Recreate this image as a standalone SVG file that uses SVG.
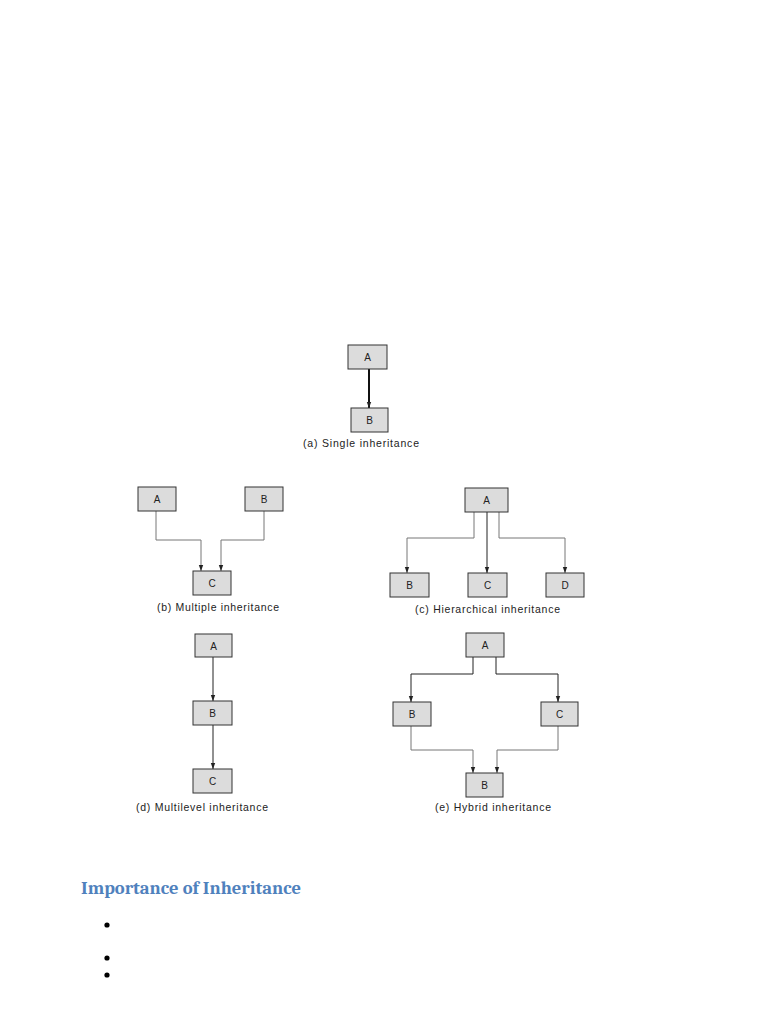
<svg xmlns="http://www.w3.org/2000/svg" width="768" height="1024" viewBox="0 0 768 1024">
<style>
.box{fill:#dcdcdc;stroke:#333;stroke-width:1}
.lbl{font-family:"Liberation Sans",Arial,sans-serif;font-size:10px;fill:#222;text-anchor:middle}
.cap{font-family:"Liberation Sans",Arial,sans-serif;font-size:10.5px;fill:#222}
.c{fill:none;stroke:#777;stroke-width:1}
.cd{fill:none;stroke:#222;stroke-width:1}
.thick{fill:none;stroke:#111;stroke-width:2}
.h{font-family:Cambria,"Liberation Serif",serif;font-size:18px;font-weight:bold;fill:#4f81bd}
</style>
<defs>
<marker id="ar" viewBox="0 0 6 6" refX="6" refY="3" markerWidth="6" markerHeight="6" markerUnits="userSpaceOnUse" orient="auto">
<path d="M0,0.8 L6,3 L0,5.2 Z" fill="#222"/>
</marker>
</defs>
<rect width="768" height="1024" fill="#fff"/>
<g id="connectors">
<path class="thick" d="M369,369 V408" marker-end="url(#ar)"/>
<path class="c" d="M156,511 V540 H201 V571" marker-end="url(#ar)"/>
<path class="c" d="M264,511 V540 H221 V571" marker-end="url(#ar)"/>
<path class="c" d="M474,512 V538 H407 V573" marker-end="url(#ar)"/>
<path class="cd" d="M487,512 V573" marker-end="url(#ar)"/>
<path class="c" d="M499,512 V538 H565 V573" marker-end="url(#ar)"/>
<path class="cd" d="M213,657 V701" marker-end="url(#ar)"/>
<path class="cd" d="M213,725 V769" marker-end="url(#ar)"/>
<path class="cd" d="M473,657 V674 H411 V702" marker-end="url(#ar)"/>
<path class="cd" d="M496,657 V674 H558 V702" marker-end="url(#ar)"/>
<path class="c" d="M411,726 V750 H473 V773" marker-end="url(#ar)"/>
<path class="c" d="M558,726 V750 H497 V773" marker-end="url(#ar)"/>
</g>
<g id="a-A"><rect class="box" x="348" y="345" width="39" height="24"/><text class="lbl" x="367.5" y="361">A</text></g>
<g id="a-B"><rect class="box" x="351" y="408" width="37" height="24"/><text class="lbl" x="369.5" y="424">B</text></g>
<text class="cap" x="303" y="447" textLength="116" lengthAdjust="spacing">(a) Single inheritance</text>
<g id="b-A"><rect class="box" x="138" y="487" width="38" height="24"/><text class="lbl" x="157" y="503">A</text></g>
<g id="b-B"><rect class="box" x="245" y="487" width="38" height="24"/><text class="lbl" x="264" y="503">B</text></g>
<g id="b-C"><rect class="box" x="193" y="571" width="38" height="24"/><text class="lbl" x="212" y="587">C</text></g>
<text class="cap" x="157" y="611" textLength="122" lengthAdjust="spacing">(b) Multiple inheritance</text>
<g id="c-A"><rect class="box" x="465" y="488" width="43" height="24"/><text class="lbl" x="486.5" y="504">A</text></g>
<g id="c-B"><rect class="box" x="390" y="573" width="39" height="24"/><text class="lbl" x="409.5" y="589">B</text></g>
<g id="c-C"><rect class="box" x="468" y="573" width="39" height="24"/><text class="lbl" x="487.5" y="589">C</text></g>
<g id="c-D"><rect class="box" x="546" y="573" width="38" height="24"/><text class="lbl" x="565" y="589">D</text></g>
<text class="cap" x="415" y="613" textLength="145" lengthAdjust="spacing">(c) Hierarchical inheritance</text>
<g id="d-A"><rect class="box" x="195" y="634" width="37" height="23"/><text class="lbl" x="213.5" y="650">A</text></g>
<g id="d-B"><rect class="box" x="193" y="701" width="39" height="24"/><text class="lbl" x="212.5" y="717">B</text></g>
<g id="d-C"><rect class="box" x="193" y="769" width="39" height="24"/><text class="lbl" x="212.5" y="785">C</text></g>
<text class="cap" x="136" y="811" textLength="132" lengthAdjust="spacing">(d) Multilevel inheritance</text>
<g id="e-A"><rect class="box" x="466" y="633" width="38" height="24"/><text class="lbl" x="485" y="649">A</text></g>
<g id="e-B1"><rect class="box" x="393" y="702" width="38" height="24"/><text class="lbl" x="412" y="718">B</text></g>
<g id="e-C"><rect class="box" x="541" y="702" width="37" height="24"/><text class="lbl" x="559.5" y="718">C</text></g>
<g id="e-B2"><rect class="box" x="466" y="773" width="37" height="24"/><text class="lbl" x="484.5" y="789">B</text></g>
<text class="cap" x="435" y="811" textLength="116" lengthAdjust="spacing">(e) Hybrid inheritance</text>
<text class="h" x="81" y="894" textLength="220" lengthAdjust="spacingAndGlyphs">Importance of Inheritance</text>
<circle cx="107" cy="925" r="2.6" fill="#000"/>
<circle cx="107" cy="958" r="2.6" fill="#000"/>
<circle cx="107" cy="975" r="2.6" fill="#000"/>
</svg>
